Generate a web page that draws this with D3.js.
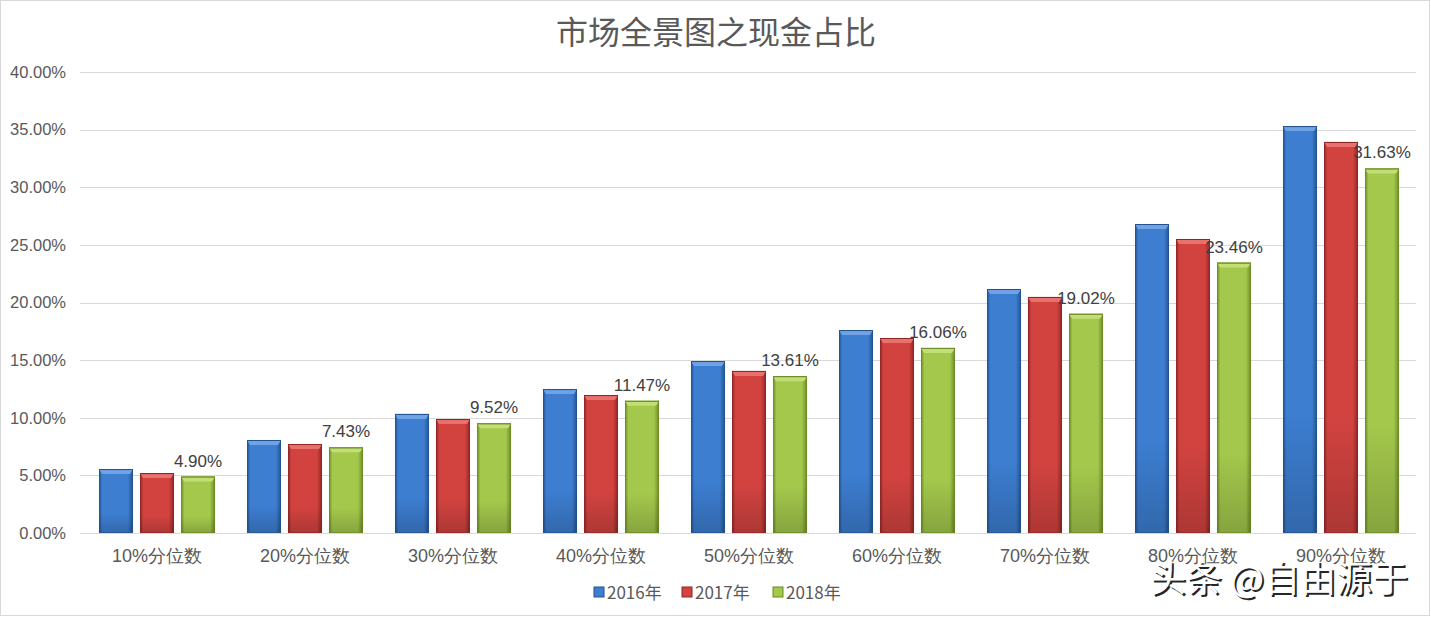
<!DOCTYPE html>
<html><head><meta charset="utf-8">
<script src="https://cdn.jsdelivr.net/npm/d3@7"></script>
<style>
body{margin:0;background:#fff;}
svg{display:block;font-family:"Noto Sans CJK SC","Liberation Sans",sans-serif;}
</style></head>
<body><svg id="c" width="1431" height="617"></svg>
<script>
const categories = ["10%分位数","20%分位数","30%分位数","40%分位数","50%分位数","60%分位数","70%分位数","80%分位数","90%分位数"];
const seriesNames = ["2016年","2017年","2018年"];
const v2016 = [5.55, 8.07, 10.33, 12.49, 14.92, 17.61, 21.17, 26.81, 35.31];
const v2017 = [5.20, 7.72, 9.89, 11.97, 14.06, 16.92, 20.48, 25.51, 33.93];
const v2018 = [4.90, 7.43, 9.52, 11.47, 13.61, 16.06, 19.02, 23.46, 31.63];
const yTicks = [0,5,10,15,20,25,30,35,40];
const colors = [
  {base:"#3D7ED1", light:"#6FA3E6", dark:"#23538F"},
  {base:"#D24340", light:"#E8706D", dark:"#8F2624"},
  {base:"#A4C84C", light:"#C3DE76", dark:"#6A8A25"}
];
const series = [v2016, v2017, v2018];

const svg = d3.select("#c");
const W=1431,H=617;
svg.append("rect").attr("x",0.5).attr("y",0.5).attr("width",W-2).attr("height",H-2).attr("fill","#fff").attr("stroke","#d9d9d9");

const x0 = d3.scaleBand().domain(categories).range([83,1415]).paddingInner(0.216).paddingOuter(0.108);
const x1 = d3.scaleBand().domain(seriesNames).range([0,x0.bandwidth()]).paddingInner(0.17);
const y = d3.scaleLinear().domain([0,40]).range([533,72]);

const defs = svg.append("defs");
colors.forEach((c,i)=>{
  const g = defs.append("linearGradient").attr("id","g"+i).attr("x1","0").attr("x2","1").attr("y1","0").attr("y2","0");
  g.append("stop").attr("offset","0").attr("stop-color",c.dark);
  g.append("stop").attr("offset","0.1").attr("stop-color",c.base);
  g.append("stop").attr("offset","0.85").attr("stop-color",c.base);
  g.append("stop").attr("offset","1").attr("stop-color",c.dark);
  const gv = defs.append("linearGradient").attr("id","gv"+i).attr("x1","0").attr("x2","0").attr("y1","0").attr("y2","1");
  gv.append("stop").attr("offset","0").attr("stop-color","#000").attr("stop-opacity",0);
  gv.append("stop").attr("offset","0.7").attr("stop-color","#000").attr("stop-opacity",0.0);
  gv.append("stop").attr("offset","1").attr("stop-color","#000").attr("stop-opacity",0.18);
});

const grid = svg.append("g");
yTicks.forEach(t=>{
  grid.append("line").attr("x1",80).attr("x2",1416).attr("y1",Math.round(y(t))+0.5).attr("y2",Math.round(y(t))+0.5)
    .attr("stroke","#d9d9d9").attr("stroke-width",1);
});
const yAxis = d3.axisLeft(y).tickValues(yTicks).tickFormat(d=>d.toFixed(2)+"%").tickSize(0).tickPadding(0);
const ya = svg.append("g").attr("transform","translate(66,0)").call(yAxis);
ya.select(".domain").remove();
ya.selectAll("text").attr("font-size",16.5).attr("fill","#595959").attr("font-family","'Liberation Sans',sans-serif");

const xAxis = d3.axisBottom(x0).tickSize(0).tickPadding(0);
const xa = svg.append("g").attr("transform","translate(0,549)").call(xAxis);
xa.select(".domain").remove();
xa.selectAll("text").attr("font-size",18).attr("fill","#595959").attr("dy","0.71em");

const groups = svg.append("g").selectAll("g").data(categories).join("g").attr("transform",d=>`translate(${x0(d)},0)`);
series.forEach((vals,si)=>{
  groups.each(function(cat,ci){
    const g = d3.select(this);
    const bx = x1(seriesNames[si]), bw = x1.bandwidth();
    const top = y(vals[ci]), h = y(0)-top;
    g.append("rect").attr("x",bx).attr("y",top).attr("width",bw).attr("height",h).attr("fill",`url(#g${si})`);
    g.append("rect").attr("x",bx).attr("y",top).attr("width",bw).attr("height",h).attr("fill",`url(#gv${si})`);
    g.append("path").attr("d",`M${bx},${top}L${bx+bw},${top}L${bx+bw-3},${top+5}L${bx+3},${top+5}Z`).attr("fill",colors[si].light);
    g.append("line").attr("x1",bx).attr("x2",bx+bw).attr("y1",top+0.5).attr("y2",top+0.5).attr("stroke",colors[si].dark).attr("stroke-width",1);
    g.append("rect").attr("x",bx+0.5).attr("y",top+0.5).attr("width",bw-1).attr("height",h-1).attr("fill","none").attr("stroke",colors[si].dark).attr("stroke-opacity",0.6);
  });
});
groups.append("text")
  .attr("x",(d,i)=>x1(seriesNames[2])+x1.bandwidth()/2)
  .attr("y",(d,i)=>y(v2018[i])-10)
  .attr("text-anchor","middle").attr("font-size",17).attr("fill","#404040")
  .attr("font-family","'Liberation Sans',sans-serif")
  .text((d,i)=>v2018[i].toFixed(2)+"%");

svg.append("text").attr("x",716).attr("y",44).attr("text-anchor","middle").attr("font-size",32).attr("fill","#595959").text("市场全景图之现金占比");

const leg = svg.append("g");
const legX = [594, 682, 773];
seriesNames.forEach((s,i)=>{
  leg.append("rect").attr("x",legX[i]).attr("y",587).attr("width",10).attr("height",10).attr("fill",colors[i].base).attr("stroke",colors[i].dark);
  leg.append("text").attr("x",legX[i]+13).attr("y",599).attr("font-size",17).attr("fill","#595959").text(s);
});

const wm = svg.append("g");
wm.append("text").attr("x",1152).attr("y",594).attr("font-size",36).attr("fill","#000").attr("opacity",0.85).text("头条 @自由源于");
wm.append("text").attr("x",1150).attr("y",592).attr("font-size",36).attr("fill","#fff").text("头条 @自由源于");
</script></body></html>
